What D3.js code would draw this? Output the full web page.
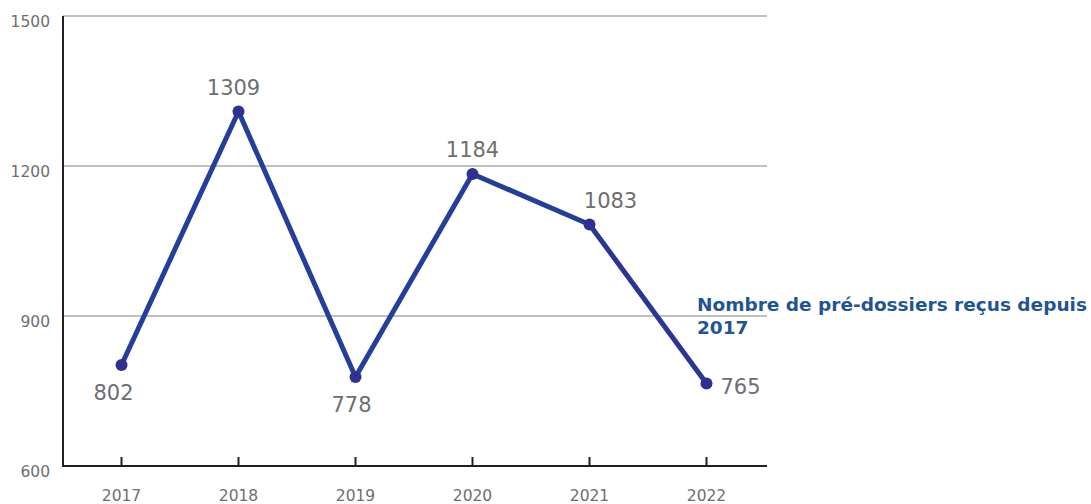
<!DOCTYPE html>
<html>
<head>
<meta charset="utf-8">
<script src="https://cdn.jsdelivr.net/npm/d3@7"></script>
<style>
	body { margin: 0; background: #fff; }
	svg text { font-family: "DejaVu Sans", Verdana, sans-serif; }
</style>
</head>
<body>
<svg id="chart"></svg>
<script>
var years = ['2017', '2018', '2019', '2020', '2021', '2022'];
var values = [802, 1309, 778, 1184, 1083, 765];
var yTicks = [600, 900, 1200, 1500];
var labelPos = ['below', 'above', 'below', 'above', 'above', 'right'];
var seriesName = ['Nombre de pré-dossiers reçus depuis', '2017'];

makeChart();

function makeChart() {
	var width = 1091;
	var height = 504;
	var left = 63, right = 765, top = 16, bottom = 466;

	var axis_color = '#231f20';
	var grid_color = '#bfbfbf';
	var text_color = '#6d6e71';
	var line_color = '#233f9b';
	var dot_color = '#2e3192';
	var legend_color = '#1f5597';

	// small nudges of the value labels, as in the original
	var label_dx = [-8, -5, -4, 0, 21, 14];

	var svg = d3.select('svg#chart')
		.attr('width', width)
		.attr('height', height);

	var x = d3.scaleBand()
		.domain(years)
		.range([left, right]);
	var y = d3.scaleLinear()
		.domain([600, 1500])
		.range([bottom, top]);

	// gridlines
	svg.selectAll('.grid')
		.data(yTicks.slice(1))
		.enter().append('line')
		.attr('class', 'grid')
		.attr('x1', left)
		.attr('x2', 767)
		.attr('y1', function(d) { return y(d); })
		.attr('y2', function(d) { return y(d); })
		.attr('stroke', grid_color)
		.attr('stroke-width', 2);

	// y labels
	svg.selectAll('.ylab')
		.data(yTicks)
		.enter().append('text')
		.attr('class', 'ylab')
		.attr('x', 50)
		.attr('y', function(d) { return y(d) + 11; })
		.attr('text-anchor', 'end')
		.attr('font-size', 15.5)
		.attr('fill', text_color)
		.text(function(d) { return d; });

	// axes
	svg.append('line')
		.attr('x1', left).attr('x2', left)
		.attr('y1', top).attr('y2', bottom + 1)
		.attr('stroke', axis_color)
		.attr('stroke-width', 2);
	svg.append('line')
		.attr('x1', left - 1).attr('x2', 767)
		.attr('y1', bottom).attr('y2', bottom)
		.attr('stroke', axis_color)
		.attr('stroke-width', 2);

	// x ticks
	svg.selectAll('.xtick')
		.data(years)
		.enter().append('line')
		.attr('class', 'xtick')
		.attr('x1', function(d) { return x(d) + x.bandwidth() / 2; })
		.attr('x2', function(d) { return x(d) + x.bandwidth() / 2; })
		.attr('y1', bottom - 9)
		.attr('y2', bottom)
		.attr('stroke', axis_color)
		.attr('stroke-width', 2);

	svg.selectAll('.xlab')
		.data(years)
		.enter().append('text')
		.attr('class', 'xlab')
		.attr('x', function(d) { return x(d) + x.bandwidth() / 2; })
		.attr('y', 501)
		.attr('text-anchor', 'middle')
		.attr('font-size', 15.5)
		.attr('fill', text_color)
		.text(function(d) { return d; });

	var pts = years.map(function(yr, i) {
		return [x(yr) + x.bandwidth() / 2, y(values[i]), values[i], labelPos[i], label_dx[i]];
	});

	// line segments (last one a little more purple)
	for (var i = 0; i < pts.length - 1; i++) {
		svg.append('line')
			.attr('x1', pts[i][0]).attr('y1', pts[i][1])
			.attr('x2', pts[i + 1][0]).attr('y2', pts[i + 1][1])
			.attr('stroke', i === pts.length - 2 ? '#2b3594' : line_color)
			.attr('stroke-width', 5)
			.attr('stroke-linecap', 'round');
	}

	svg.selectAll('.dot')
		.data(pts)
		.enter().append('circle')
		.attr('class', 'dot')
		.attr('cx', function(d) { return d[0]; })
		.attr('cy', function(d) { return d[1]; })
		.attr('r', 6)
		.attr('fill', dot_color);

	svg.selectAll('.vlab')
		.data(pts)
		.enter().append('text')
		.attr('class', 'vlab')
		.attr('x', function(d) { return d[0] + d[4]; })
		.attr('y', function(d) {
			if (d[3] === 'above') return d[1] - 17;
			if (d[3] === 'below') return d[1] + 35;
			return d[1] + 10;
		})
		.attr('text-anchor', function(d) { return d[3] === 'right' ? 'start' : 'middle'; })
		.attr('font-size', 21)
		.attr('fill', text_color)
		.text(function(d) { return d[2]; });

	// series label
	var leg = svg.append('text')
		.attr('x', 697)
		.attr('y', 311)
		.attr('font-size', 18.5)
		.attr('font-weight', 'bold')
		.attr('fill', legend_color);
	leg.selectAll('tspan')
		.data(seriesName)
		.enter().append('tspan')
		.attr('x', 697)
		.attr('dy', function(d, i) { return i === 0 ? 0 : 23; })
		.text(function(d) { return d; });
}
</script>
</body>
</html>
